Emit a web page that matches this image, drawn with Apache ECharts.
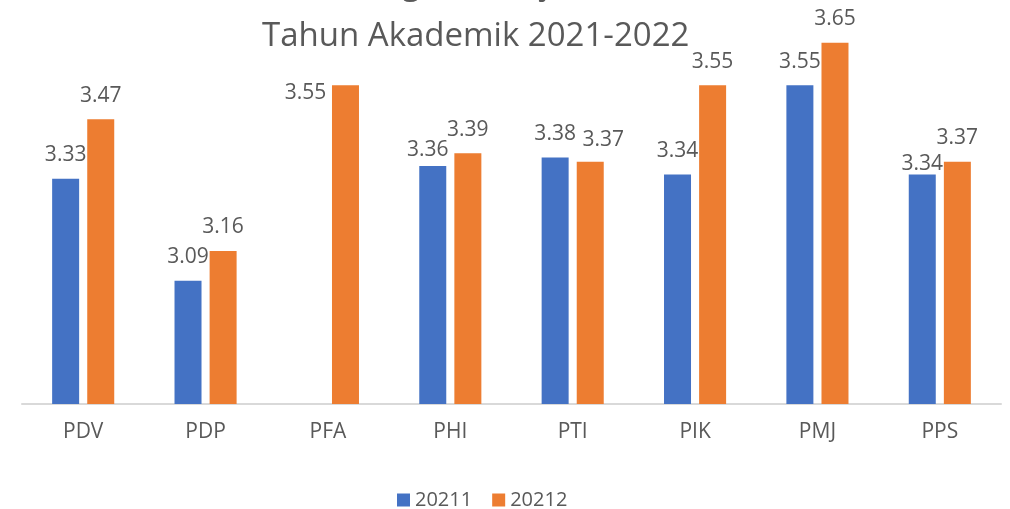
<!DOCTYPE html>
<html>
<head>
<meta charset="utf-8">
<script src="https://cdn.jsdelivr.net/npm/echarts@6/dist/echarts.min.js"></script>
<style>
  html, body { margin: 0; padding: 0; background: #fff; }
  #chart { width: 1010px; height: 509px; }
</style>
</head>
<body>
<div id="chart"></div>
<script>
// data
const categories = ['PDV', 'PDP', 'PFA', 'PHI', 'PTI', 'PIK', 'PMJ', 'PPS']
const sem20211 = [3.33, 3.09, null, 3.36, 3.38, 3.34, 3.55, 3.34]
const sem20212 = [3.47, 3.16, 3.55, 3.39, 3.37, 3.55, 3.65, 3.37]
const seriesNames = ['20211', '20212']

// labels that were nudged by hand in the original
const labelShift1 = { PHI: [-5, 8], PPS: [0, 13] }
const labelShift2 = { PFA: [-40, 31], PTI: [13, 2] }

const textColor = '#595959'
const font = 'Open Sans'

function withShift (values, shifts) {
  return values.map(function (v, i) {
    const s = shifts[categories[i]]
    if (!s || v == null) return v
    return { value: v, label: { offset: s } }
  })
}

const chart = echarts.init(document.getElementById('chart'))
chart.setOption({
  animation: false,
  color: ['#4472C4', '#ED7D31'],
  title: [{
    // first line is cut off by the top edge in the original
    text: 'Rata-rata IPK Program Sarjana',
    left: 136,
    top: -37,
    textStyle: { color: textColor, fontFamily: font, fontWeight: 'normal', fontSize: 33 }
  }, {
    text: 'Tahun Akademik 2021-2022',
    left: 257,
    top: 15,
    textStyle: { color: textColor, fontFamily: font, fontWeight: 'normal', fontSize: 33 }
  }],
  legend: {
    data: seriesNames,
    left: 392,
    top: 485,
    icon: 'rect',
    itemWidth: 13,
    itemHeight: 13,
    itemGap: 20,
    textStyle: { color: textColor, fontFamily: font, fontSize: 20 }
  },
  grid: {
    left: 22,
    right: 9,
    top: 21.5,
    bottom: 105
  },
  xAxis: {
    type: 'category',
    data: categories,
    axisLine: { lineStyle: { color: '#d9d9d9', width: 2 } },
    axisTick: { show: false },
    axisLabel: { color: textColor, fontFamily: font, fontSize: 21, margin: 18 }
  },
  yAxis: {
    type: 'value',
    min: 2.8,
    max: 3.7,
    show: false,
    splitLine: { show: false }
  },
  series: [{
    name: seriesNames[0],
    type: 'bar',
    barWidth: 27,
    barGap: '30%',
    data: withShift(sem20211, labelShift1),
    label: {
      show: true,
      position: 'top',
      distance: 13,
      color: textColor,
      fontFamily: font,
      fontSize: 21
    }
  }, {
    name: seriesNames[1],
    type: 'bar',
    barWidth: 27,
    barGap: '30%',
    data: withShift(sem20212, labelShift2),
    label: {
      show: true,
      position: 'top',
      distance: 13,
      color: textColor,
      fontFamily: font,
      fontSize: 21
    }
  }]
})
</script>
</body>
</html>
